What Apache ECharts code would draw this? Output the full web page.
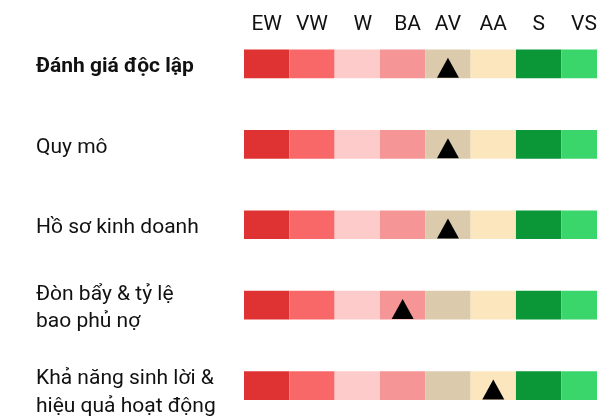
<!DOCTYPE html>
<html>
<head>
<meta charset="utf-8">
<script src="https://cdn.jsdelivr.net/npm/echarts@6/dist/echarts.min.js"></script>
<style>
html,body{margin:0;padding:0;background:#fff;}
#chart{width:597px;height:418px;}
</style>
</head>
<body>
<div id="chart"></div>
<script>
// ---- data ----
const categories = ['EW', 'VW', 'W', 'BA', 'AV', 'AA', 'S', 'VS'];
const rowLabels = [
  'Đánh giá độc lập',
  'Quy mô',
  'Hồ sơ kinh doanh',
  'Đòn bẩy & tỷ lệ\nbao phủ nợ',
  'Khả năng sinh lời &\nhiệu quả hoạt động'
];
const ratings = ['AV', 'AV', 'AV', 'BA', 'AA'];
const cellColors = ['#df3333', '#f96868', '#fecbcb', '#f59595', '#dbcbac', '#fce6bd', '#0b9737', '#3bd66b'];

// ---- build ----
const cellData = [];
rowLabels.forEach((r, ri) => categories.forEach((c, ci) => cellData.push([ci, ri])));
const markerData = ratings.map((r, ri) => [categories.indexOf(r), ri]);

// small horizontal nudges of some header labels (style only)
const headerShift = {W: 11, BA: 10};
const xAxisData = categories.map(c => headerShift[c]
  ? {value: c, textStyle: {verticalAlign: 'middle', align: 'center', padding: [0, 0, 0, headerShift[c]]}}
  : c);
const yAxisData = rowLabels.map((r, i) => i === rowLabels.length - 1
  ? {value: r, textStyle: {align: 'left', padding: [14, 0, 0, 0]}}
  : r);

const CELL_H = 28.7;
const chart = echarts.init(document.getElementById('chart'), null, {renderer: 'canvas'});
chart.setOption({
  animation: false,
  backgroundColor: '#ffffff',
  textStyle: {fontFamily: 'Roboto'},
  grid: {left: 244, top: 23.75, width: 362.6, height: 402, containLabel: false, outerBoundsMode: 'none'},
  xAxis: {
    type: 'category',
    position: 'top',
    data: xAxisData,
    axisLine: {show: false},
    axisTick: {show: false},
    splitLine: {show: false},
    axisLabel: {fontSize: 21, color: '#111', fontFamily: 'Roboto', verticalAlign: 'middle', margin: -1, interval: 0, hideOverlap: false}
  },
  yAxis: {
    type: 'category',
    inverse: true,
    data: yAxisData,
    axisLine: {show: false},
    axisTick: {show: false},
    splitLine: {show: false},
    axisLabel: {
      fontSize: 21, color: '#111', fontFamily: 'Roboto', align: 'left', margin: 208, lineHeight: 27.6, interval: 0,
      padding: [6, 0, 0, 0],
      formatter: function (v, i) { return i === 0 ? '{b|' + v + '}' : v; },
      rich: {b: {fontWeight: 'bold', fontSize: 21, fontFamily: 'Roboto', color: '#111'}}
    }
  },
  series: [
    {
      type: 'custom',
      data: cellData,
      renderItem: function (params, api) {
        const p = api.coord([api.value(0), api.value(1)]);
        const w = api.size([1, 0])[0];
        return {
          type: 'rect',
          shape: {x: p[0] - w / 2, y: p[1] - CELL_H / 2, width: w, height: CELL_H},
          style: {fill: cellColors[api.value(0)]}
        };
      }
    },
    {
      type: 'custom',
      data: markerData,
      z: 5,
      renderItem: function (params, api) {
        const p = api.coord([api.value(0), api.value(1)]);
        const base = p[1] + CELL_H / 2 - 0.5;
        return {
          type: 'polygon',
          shape: {points: [[p[0] - 11, base], [p[0] + 11, base], [p[0], base - 20]]},
          style: {fill: '#000'}
        };
      }
    }
  ]
});
</script>
</body>
</html>
